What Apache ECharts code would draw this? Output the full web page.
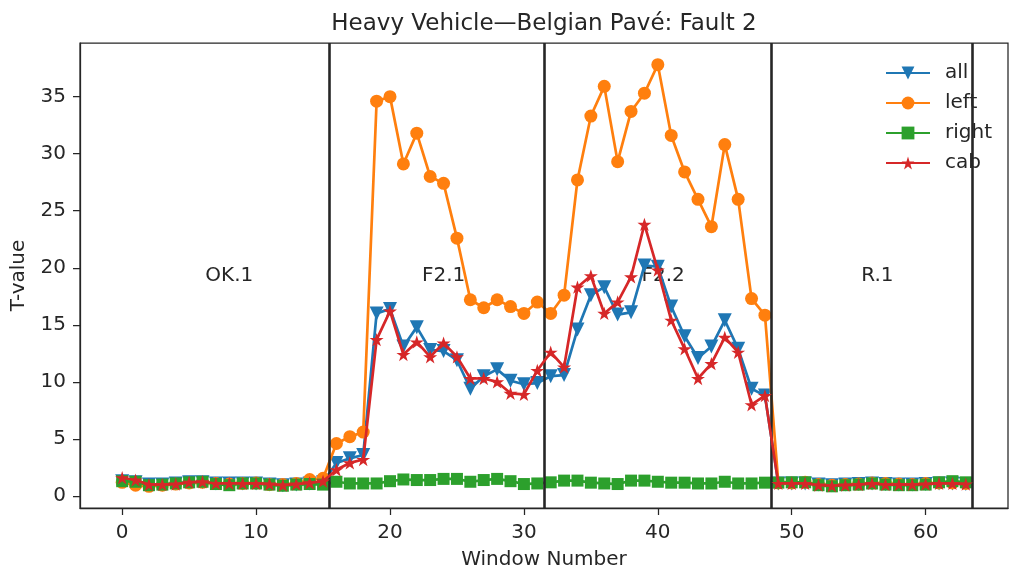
<!DOCTYPE html>
<html>
<head>
<meta charset="utf-8">
<script src="https://cdn.jsdelivr.net/npm/echarts@6/dist/echarts.min.js"></script>
<style>html,body{margin:0;padding:0;background:#fff}#c{width:1010px;height:569px}</style>
</head>
<body>
<div id="c"></div>
<script>
// ---- data ----
const windows = Array.from({length: 64}, (_, i) => i);
const allVals = [1.3,1.2,1.0,1.0,1.1,1.2,1.2,1.1,1.1,1.1,1.1,1.0,0.95,1.0,1.1,1.2,
  2.9,3.3,3.6,16.0,16.4,13.1,14.8,12.8,12.7,11.9,9.4,10.5,11.1,10.1,9.8,9.9,
  10.5,10.6,14.6,17.6,18.3,15.9,16.1,20.2,20.1,16.6,14.0,12.1,13.1,15.4,12.9,9.4,8.8,
  1.1,1.1,1.1,1.0,0.95,1.0,1.05,1.1,1.05,1.0,1.0,1.05,1.1,1.1,1.05];
const leftVals = [1.2,0.95,0.85,0.95,1.05,1.15,1.2,1.1,1.05,1.1,1.15,1.0,1.0,1.1,1.45,1.55,
  4.6,5.2,5.6,34.6,35.0,29.1,31.8,28.0,27.4,22.6,17.2,16.5,17.2,16.6,16.0,17.0,
  16.0,17.6,27.7,33.3,35.9,29.3,33.7,35.3,37.8,31.6,28.4,26.0,23.6,30.8,26.0,17.3,15.85,
  1.15,1.15,1.2,1.0,0.95,1.0,1.05,1.15,1.1,1.05,1.0,1.1,1.15,1.15,1.1];
const rightVals = [1.3,1.25,0.95,1.0,1.1,1.2,1.25,1.05,0.95,1.1,1.1,1.0,0.9,1.0,1.05,1.0,
  1.25,1.1,1.1,1.1,1.3,1.45,1.4,1.4,1.5,1.5,1.25,1.4,1.5,1.3,1.05,1.1,
  1.2,1.35,1.35,1.17,1.1,1.05,1.35,1.35,1.25,1.17,1.17,1.1,1.1,1.25,1.1,1.1,1.17,
  1.17,1.2,1.2,0.95,0.85,0.95,1.0,1.1,1.0,0.95,0.95,1.0,1.2,1.3,1.2];
const cabVals = [1.6,1.4,1.0,1.0,1.05,1.2,1.25,1.1,1.1,1.1,1.1,1.05,0.95,1.05,1.15,1.3,
  2.3,2.9,3.2,13.7,16.2,12.4,13.5,12.2,13.4,12.2,10.3,10.3,10.0,9.0,8.9,11.0,
  12.6,11.3,18.3,19.3,16.0,17.0,19.2,23.8,19.8,15.4,12.9,10.3,11.6,13.9,12.6,8.0,8.8,
  1.1,1.1,1.1,0.95,0.9,0.95,1.0,1.1,1.0,1.0,1.0,1.05,1.1,1.1,1.05];
const boundaries = [15.5, 31.5, 48.5, 63.5];
const regionNames = ['OK.1', 'F2.1', 'F2.2', 'R.1'];
const regionX = [8.0, 24.0, 40.4, 56.4];
const regionY = 19.5;
const xTicks = [0, 10, 20, 30, 40, 50, 60];
const yTicks = [0, 5, 10, 15, 20, 25, 30, 35];

// ---- chart ----
const FONT = 'DejaVu Sans';
const TXT = '#262626';
const STAR = 'path://M0,-10L2.245,-3.09L9.511,-3.09L3.633,1.18L5.878,8.09L0,3.82L-5.878,8.09L-3.633,1.18L-9.511,-3.09L-2.245,-3.09Z';
const pair = arr => arr.map((v, i) => [windows[i], v]);

function lineSeries(name, vals, color, symbol, size, z, extra) {
  return Object.assign({
    name, type: 'line', data: pair(vals), z,
    symbol, symbolSize: size, symbolKeepAspect: true, showAllSymbol: true,
    lineStyle: {color, width: 2.7},
    itemStyle: {color, borderWidth: 0},
    emphasis: {disabled: true},
    animation: false
  }, extra || {});
}

const chart = echarts.init(document.getElementById('c'), null, {renderer: 'canvas'});
chart.setOption({
  animation: false,
  textStyle: {fontFamily: FONT},
  title: {
    text: 'Heavy Vehicle\u2014Belgian Pav\u00e9: Fault 2',
    left: 544, textAlign: 'center', top: 13, padding: 0,
    textStyle: {fontFamily: FONT, fontSize: 23, fontWeight: 'normal', color: TXT}
  },
  grid: {left: 80, right: 2, top: 43, bottom: 61, show: true, containLabel: false,
    outerBoundsMode: 'none',
    borderColor: TXT, borderWidth: 1.25, backgroundColor: 'transparent'},
  legend: {
    orient: 'vertical', left: 885, top: 63, padding: 0, itemGap: 10,
    itemWidth: 44, itemHeight: 16, selectedMode: false,
    data: ['all', 'left', 'right', 'cab'],
    textStyle: {fontFamily: FONT, fontSize: 20, color: TXT, padding: [4, 0, 0, 10]}
  },
  xAxis: {
    type: 'value', min: -3.15, max: 66.15,
    name: 'Window Number', nameLocation: 'middle', nameGap: 42,
    nameTextStyle: {fontFamily: FONT, fontSize: 20, color: TXT},
    axisLine: {show: true, onZero: false, lineStyle: {color: TXT, width: 1.25}},
    axisTick: {show: true, length: 7, customValues: xTicks, lineStyle: {color: TXT, width: 1.25}},
    axisLabel: {customValues: xTicks, margin: 15, fontFamily: FONT, fontSize: 20, color: TXT},
    splitLine: {show: false}
  },
  yAxis: {
    type: 'value', min: -1.05, max: 39.7,
    name: 'T-value', nameLocation: 'middle', nameGap: 51,
    nameTextStyle: {fontFamily: FONT, fontSize: 20, color: TXT},
    axisLine: {show: true, onZero: false, lineStyle: {color: TXT, width: 1.25}},
    axisTick: {show: true, length: 7, customValues: yTicks, lineStyle: {color: TXT, width: 1.25}},
    axisLabel: {customValues: yTicks, margin: 14, fontFamily: FONT, fontSize: 20, color: TXT,
      padding: [9, 0, 0, 0]},
    splitLine: {show: false}
  },
  series: [
    {
      name: 'regions', type: 'scatter', z: 1, symbolSize: 0,
      itemStyle: {opacity: 1},
      data: regionNames.map((n, i) => ({value: [regionX[i], regionY], name: n})),
      label: {show: true, position: 'inside', formatter: p => p.name, opacity: 1,
        offset: [0, 2], fontFamily: FONT, fontSize: 20, color: TXT},
      markLine: {
        silent: true, symbol: 'none', animation: false,
        label: {show: false},
        lineStyle: {color: TXT, width: 2.6, type: 'solid', opacity: 1},
        data: boundaries.map(b => ({xAxis: b}))
      },
      emphasis: {disabled: true}
    },
    lineSeries('all', allVals, '#1f77b4', 'triangle', 14, 2, {symbolRotate: 180}),
    lineSeries('left', leftVals, '#ff7f0e', 'circle', 13, 3),
    lineSeries('right', rightVals, '#2ca02c', 'rect', 12, 4),
    lineSeries('cab', cabVals, '#d62728', STAR, 14, 5)
  ]
});
</script>
</body>
</html>
